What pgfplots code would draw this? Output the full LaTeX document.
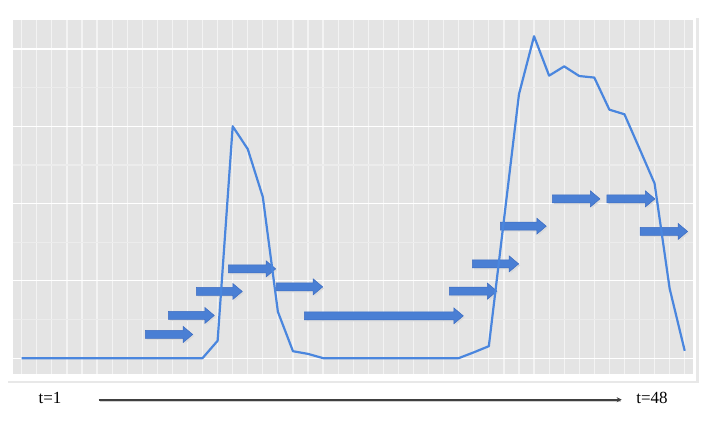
\documentclass[border=0pt]{standalone}
\usepackage{fontspec}
\setmainfont{Liberation Serif}
\usepackage{pgfplots}
\pgfplotsset{compat=1.18}
\usetikzlibrary{arrows.meta}

\definecolor{bggray}{HTML}{E4E4E4}
\definecolor{gridw}{HTML}{F3F3F3}
\definecolor{gridm}{HTML}{ECECEC}
\definecolor{linec}{HTML}{4A86DE}
\definecolor{arrf}{HTML}{4A7FD4}
\definecolor{arre}{HTML}{3C6CC2}
\definecolor{framec}{HTML}{E8E8E8}

% block arrow: start x (px), tip x (px), centre y (px), converted to axis units
\newcommand{\barrow}[3]{%
  \fill[black!14] (axis cs:{(#1-21.7)/15.07},{(358-#3)/38.65}) ++(1.5pt,-1.5pt) ++(0pt,4pt)
    -- ++({(#2-#1-9.5)*1pt},0pt) -- ++(0pt,4pt) -- ++(9.5pt,-8pt) -- ++(-9.5pt,-8pt)
    -- ++(0pt,4pt) -- ++({-(#2-#1-9.5)*1pt},0pt) -- cycle;
  \filldraw[fill=arrf, draw=arre, line width=0.5pt]
    (axis cs:{(#1-21.7)/15.07},{(358-#3)/38.65}) ++(0pt,4pt)
    -- ++({(#2-#1-9.5)*1pt},0pt) -- ++(0pt,4pt) -- ++(9.5pt,-8pt) -- ++(-9.5pt,-8pt)
    -- ++(0pt,4pt) -- ++({-(#2-#1-9.5)*1pt},0pt) -- cycle;
}

\begin{document}
\begin{tikzpicture}
\useasboundingbox (0pt,0pt) rectangle (719pt,441pt);
\begin{axis}[
  at={(13pt,67pt)}, anchor=south west,
  scale only axis, width=680pt, height=354pt,
  xmin=-0.58, xmax=44.55, ymin=-0.41, ymax=8.75,
  axis line style={draw=none},
  axis background/.style={fill=bggray},
  xtick={0,...,44}, xticklabels={},
  ytick={0,2,4,6,8}, minor ytick={1,3,5,7}, yticklabels={},
  major tick length=0pt, minor tick length=0pt,
  grid=both,
  major x grid style={draw=gridw, line width=1.2pt},
  major y grid style={draw=white, line width=1.2pt},
  minor y grid style={draw=gridm, line width=1.2pt},
]
\barrow{145.3}{192.7}{334.3}
\barrow{168.3}{214.3}{315.3}
\barrow{196.3}{242.3}{291.3}
\barrow{228.3}{275.7}{268.7}
\barrow{276.3}{322.7}{286.7}
\barrow{304.3}{463.3}{315.7}
\barrow{449.3}{497.0}{291.0}
\barrow{472.3}{518.7}{263.7}
\barrow{500.3}{546.3}{226.0}
\barrow{552.3}{600.0}{198.7}
\barrow{607.0}{655.0}{198.7}
\barrow{640.3}{687.7}{231.3}
\addplot[color=linec, line width=2.2pt, line join=round] table {
x y
0 0
1 0
2 0
3 0
4 0
5 0
6 0
7 0
8 0
9 0
10 0
11 0
12 0
13 0.45
14 6.00
15 5.41
16 4.17
17 1.20
18 0.18
19 0.11
20 0
21 0
22 0
23 0
24 0
25 0
26 0
27 0
28 0
29 0
30 0.15
31 0.31
32 3.57
33 6.83
34 8.33
35 7.31
36 7.55
37 7.30
38 7.26
39 6.43
40 6.31
41 5.42
42 4.52
43 1.80
44 0.19
};
\end{axis}
% light frame around the plot area
\draw[framec, line width=2.5pt] (8pt,59pt) -- (697.5pt,59pt) -- (697.5pt,423pt);
% time arrow
\draw[black!18, line width=2pt] (99.5pt,39.8pt) -- (621pt,39.8pt);
\draw[black!75, line width=2pt, -{Stealth[length=5pt,width=5pt]}] (98.7pt,41.3pt) -- (621.7pt,41.3pt);
\node[font=\fontsize{17}{17}\selectfont, anchor=base] at (50pt,37.3pt) {t=1};
\node[font=\fontsize{17}{17}\selectfont, anchor=base] at (652pt,37.3pt) {t=48};
\end{tikzpicture}
\end{document}
